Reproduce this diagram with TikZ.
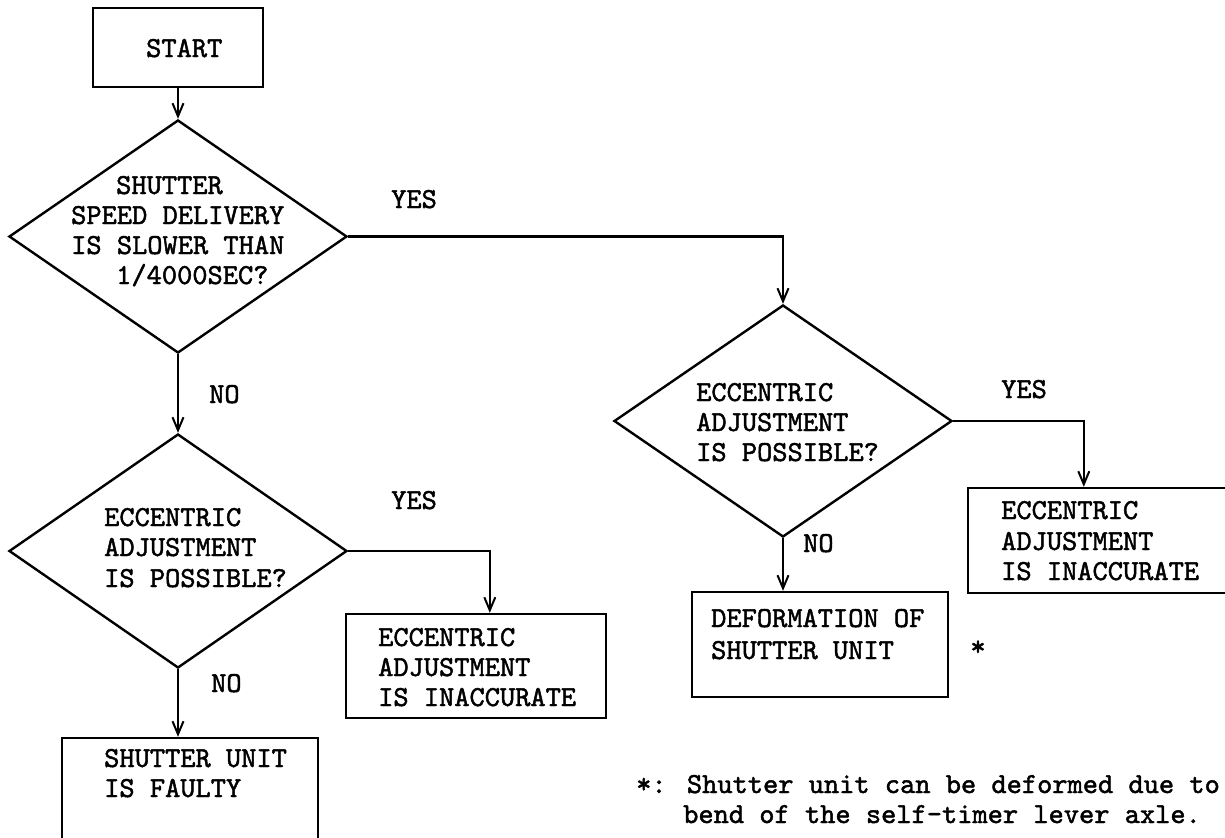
\documentclass[tikz,border=0pt]{standalone}
\usepackage{fontspec}
\newfontfamily\twfont{lmmono10-regular.otf}[FakeBold=1.6]
\usetikzlibrary{shapes.geometric,arrows.meta}
\begin{document}
\begin{tikzpicture}[x=1bp,y=-1bp,
  ln/.style={line width=2.4bp, draw=black},
  arr/.style={ln, -{Straight Barb[length=13bp,width=11bp,line width=2bp]}},
  boxshape/.style={draw, line width=2.4bp, rectangle, inner sep=0pt},
  dia/.style={draw, line width=2.4bp, diamond, inner sep=0pt},
  txt/.style={anchor=base west, inner sep=0pt, font=\fontsize{29bp}{30bp}\selectfont\twfont}
]
\useasboundingbox (0,0) rectangle (1225,838);
\clip (0,0) rectangle (1225,838);

% shapes
\node[boxshape, minimum width=170bp, minimum height=79bp] (start) at (178,47.5) {};
\node[dia, minimum width=338bp, minimum height=233bp] (d1) at (178,236.5) {};
\node[dia, minimum width=338bp, minimum height=232bp] (d2) at (783,421) {};
\node[dia, minimum width=338bp, minimum height=234bp] (d3) at (178,551) {};
\node[boxshape, minimum width=280bp, minimum height=105bp] (box1) at (1108,540.5) {};
\node[boxshape, minimum width=260bp, minimum height=104bp] (box2) at (476,666) {};
\node[boxshape, minimum width=256bp, minimum height=105bp] (box3) at (820,644.5) {};
\node[boxshape, minimum width=256bp, minimum height=140bp] (box4) at (190,808) {};

% texts
\node[txt] (tstart) at (146,57) {START};
\node[txt] (d1a) at (116,194) {SHUTTER};
\node[txt] (d1b) at (71,224) {SPEED DELIVERY};
\node[txt] (d1c) at (71,254) {IS SLOWER THAN};
\node[txt] (d1d) at (116,284) {1/4000SEC?};
\node[txt] (d2a) at (696,401) {ECCENTRIC};
\node[txt] (d2b) at (696,431) {ADJUSTMENT};
\node[txt] (d2c) at (696,461) {IS POSSIBLE?};
\node[txt] (d3a) at (104,526) {ECCENTRIC};
\node[txt] (d3b) at (104,556) {ADJUSTMENT};
\node[txt] (d3c) at (104,587) {IS POSSIBLE?};
\node[txt] (b1a) at (1001,519) {ECCENTRIC};
\node[txt] (b1b) at (1001,550) {ADJUSTMENT};
\node[txt] (b1c) at (1001,580) {IS INACCURATE};
\node[txt] (b2a) at (378,646) {ECCENTRIC};
\node[txt] (b2b) at (378,676) {ADJUSTMENT};
\node[txt] (b2c) at (378,706) {IS INACCURATE};
\node[txt] (b3a) at (711,627) {DEFORMATION OF};
\node[txt] (b3b) at (711,659) {SHUTTER UNIT};
\node[txt] (b4a) at (104,767) {SHUTTER UNIT};
\node[txt] (b4b) at (104,797) {IS FAULTY};
\node[inner sep=0pt, font=\fontsize{29bp}{30bp}\selectfont\twfont] (star) at (978,648) {*};
\node[txt] (fn1) at (636,793) {*: Shutter unit can be deformed due to};
\node[txt] (fn2) at (683,823) {bend of the self-timer lever axle.};

% labels
\node[txt] (yes1) at (391,208) {YES};
\node[txt] (no1) at (209,403) {NO};
\node[txt] (yes2) at (1001,398) {YES};
\node[txt] (no2) at (803,552) {NO};
\node[txt] (yes3) at (391,509) {YES};
\node[txt] (no3) at (211,692) {NO};

% connectors
\draw[arr] (start.south) -- (d1.north);
\draw[arr] (d1.east) -| (d2.north);
\draw[arr] (d1.south) -- (d3.north);
\draw[arr] (d2.east) -| ([xshift=117bp]box1.north west);
\draw[arr] (d2.south) -- (d2.south |- box3.north);
\draw[arr] (d3.east) -| ([xshift=145bp]box2.north west);
\draw[arr] (d3.south) -- (d3.south |- box4.north);
\end{tikzpicture}
\end{document}
